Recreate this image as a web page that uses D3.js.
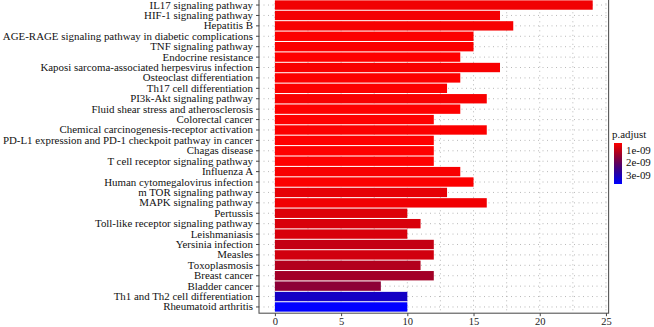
<!DOCTYPE html>
<html>
<head>
<meta charset="utf-8">
<script src="https://cdn.jsdelivr.net/npm/d3@7"></script>
<style>
  body { margin: 0; background: #fff; }
  svg { display: block; font-family: "Liberation Serif", "DejaVu Serif", serif; }
</style>
</head>
<body>
<div id="chart"></div>
<script>
const width = 654;
const height = 327;

// pathways, top to bottom
const pathways = [
  "IL17 signaling pathway",
  "HIF-1 signaling pathway",
  "Hepatitis B",
  "AGE-RAGE signaling pathway in diabetic complications",
  "TNF signaling pathway",
  "Endocrine resistance",
  "Kaposi sarcoma-associated herpesvirus infection",
  "Osteoclast differentiation",
  "Th17 cell differentiation",
  "PI3k-Akt signaling pathway",
  "Fluid shear stress and atherosclerosis",
  "Colorectal cancer",
  "Chemical carcinogenesis-receptor activation",
  "PD-L1 expression and PD-1 checkpoit pathway in cancer",
  "Chagas disease",
  "T cell receptor signaling pathway",
  "Influenza A",
  "Human cytomegalovirus infection",
  "m TOR signaling pathway",
  "MAPK signaling pathway",
  "Pertussis",
  "Toll-like receptor signaling pathway",
  "Leishmaniasis",
  "Yersinia infection",
  "Measles",
  "Toxoplasmosis",
  "Breast cancer",
  "Bladder cancer",
  "Th1 and Th2 cell differentiation",
  "Rheumatoid arthritis"
];

const counts = [24, 17, 18, 15, 15, 14, 17, 14, 13, 16,
                14, 12, 16, 12, 12, 12, 14, 15, 13, 16,
                10, 11, 10, 12, 12, 11, 12, 8, 10, 10];

const padj = [0.57e-9, 0.54e-9, 0.51e-9, 0.47e-9, 0.48e-9, 0.45e-9, 0.50e-9, 0.47e-9, 0.47e-9, 0.50e-9,
              0.45e-9, 0.44e-9, 0.47e-9, 0.44e-9, 0.44e-9, 0.44e-9, 0.50e-9, 0.47e-9, 0.67e-9, 0.57e-9,
              0.75e-9, 0.80e-9, 0.80e-9, 0.99e-9, 0.86e-9, 1.16e-9, 1.32e-9, 1.55e-9, 3.15e-9, 3.70e-9];

const xTicks = [0, 5, 10, 15, 20, 25];
const xMinor = [2.5, 7.5, 12.5, 17.5, 22.5];
const legendTicks = [1e-9, 2e-9, 3e-9];

const data = pathways.map((p, i) => ({ name: p, count: counts[i], p: padj[i] }));

const panel = { left: 259, right: 608.6, top: -1.2, bottom: 313.2 };
const fontSize = 10.9;

const x = d3.scaleLinear()
    .domain([-1.2, 25.2])
    .range([panel.left, panel.right]);

const y = d3.scaleBand()
    .domain(pathways)
    .range([panel.top, panel.bottom])
    .paddingInner(0.1)
    .paddingOuter(0.15);

const pExtent = d3.extent(padj);
const color = d3.scaleLinear()
    .domain(pExtent)
    .range(["#ff0000", "#0000ff"])
    .interpolate(d3.interpolateRgb.gamma(0.7));

const svg = d3.select("#chart")
  .append("svg")
    .attr("width", width)
    .attr("height", height)
    .attr("viewBox", [0, 0, width, height]);

// grid
const grid = svg.append("g")
    .attr("stroke", "#8a8a8a")
    .attr("stroke-width", 0.6)
    .attr("stroke-dasharray", "1,3.5");

grid.selectAll(".hgrid")
  .data(pathways)
  .join("line")
    .attr("x1", panel.left)
    .attr("x2", panel.right)
    .attr("y1", d => y(d) + y.bandwidth() / 2)
    .attr("y2", d => y(d) + y.bandwidth() / 2);

grid.selectAll(".vgrid")
  .data(xTicks.concat(xMinor))
  .join("line")
    .attr("x1", d => x(d))
    .attr("x2", d => x(d))
    .attr("y1", panel.top)
    .attr("y2", panel.bottom);

// bars
svg.append("g")
  .selectAll()
  .data(data)
  .join("rect")
    .attr("x", x(0))
    .attr("y", d => y(d.name))
    .attr("width", d => x(d.count) - x(0))
    .attr("height", y.bandwidth())
    .attr("fill", d => color(d.p));

// panel border
svg.append("rect")
    .attr("x", panel.left)
    .attr("y", panel.top)
    .attr("width", panel.right - panel.left)
    .attr("height", panel.bottom - panel.top)
    .attr("fill", "none")
    .attr("stroke", "#555")
    .attr("stroke-width", 1.1);

// y axis
svg.append("g")
    .attr("transform", `translate(${panel.left},0)`)
    .call(d3.axisLeft(y).tickSize(3).tickPadding(3))
    .call(g => g.select(".domain").remove())
    .call(g => g.selectAll(".tick line").attr("stroke", "#444"))
    .call(g => g.selectAll(".tick text")
        .attr("fill", "#111")
        .attr("font-size", fontSize)
        .attr("font-family", "Liberation Serif"));

// x axis
svg.append("g")
    .attr("transform", `translate(0,${panel.bottom})`)
    .call(d3.axisBottom(x).tickValues(xTicks).tickSize(3))
    .call(g => g.select(".domain").remove())
    .call(g => g.selectAll(".tick line").attr("stroke", "#444"))
    .call(g => g.selectAll(".tick text")
        .attr("y", 11.8)
        .attr("dy", 0)
        .attr("fill", "#222")
        .attr("font-size", 10.5)
        .attr("font-family", "Liberation Serif"));

// legend
const legend = svg.append("g").attr("transform", "translate(613,0)");
const lg = svg.append("defs").append("linearGradient")
    .attr("id", "pgrad")
    .attr("x1", 0).attr("y1", 0).attr("x2", 0).attr("y2", 1);
d3.range(0, 1.0001, 0.1).forEach(t => {
  lg.append("stop")
    .attr("offset", t)
    .attr("stop-color", color(pExtent[0] + t * (pExtent[1] - pExtent[0])));
});

const ly = d3.scaleLinear().domain(pExtent).range([143, 184]);

legend.append("text")
    .attr("x", -1)
    .attr("y", 138)
    .attr("font-size", fontSize)
    .attr("fill", "#111")
    .text("p.adjust");

legend.append("rect")
    .attr("x", 1)
    .attr("y", ly(pExtent[0]))
    .attr("width", 8)
    .attr("height", ly(pExtent[1]) - ly(pExtent[0]))
    .attr("fill", "url(#pgrad)");

legend.selectAll(".lt")
  .data(legendTicks)
  .join("text")
    .attr("x", 13)
    .attr("y", d => ly(d))
    .attr("dy", "0.35em")
    .attr("font-size", fontSize)
    .attr("fill", "#111")
    .text(d => d3.format(".0e")(d).replace("e-9", "e-09"));
</script>
</body>
</html>
